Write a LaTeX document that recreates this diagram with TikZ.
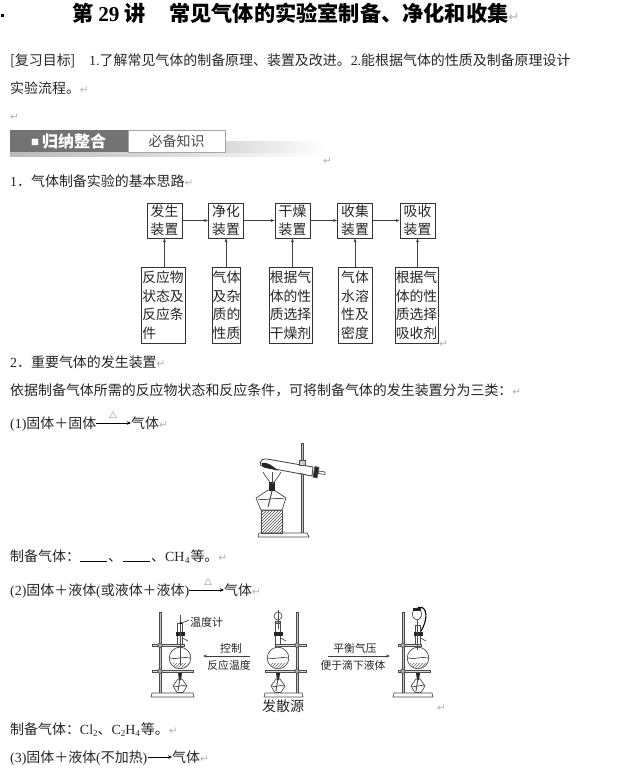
\documentclass[tikz,border=0pt]{standalone}
\usepackage{fontspec}
\setmainfont{Noto Sans CJK SC}
\newfontfamily\latinf{Liberation Serif}
\newfontfamily\retf{DejaVu Sans}
\usetikzlibrary{arrows.meta,patterns,shadings}
\newcommand{\ret}{{\retf\color{gray!60}\fontsize{10.5}{10.5}\selectfont ↵}}
\newcommand{\tret}{{\retf\color{gray!60}\mdseries\fontsize{13}{13}\selectfont ↵}}
\newcommand{\lt}[1]{{\latinf #1}}
\newcommand{\sbs}[1]{\raisebox{-2pt}{\latinf\fontsize{9}{9}\selectfont #1}}
\tikzset{
  x=1pt,y=-1pt,
  txt/.style={anchor=base west,inner sep=0pt,font=\fontsize{13.95}{14}\selectfont,text=black!85},
  ttl/.style={anchor=base west,inner sep=0pt,font=\fontsize{21.2}{22}\selectfont\bfseries},
  boxn/.style={draw=black!80,line width=0.8pt,inner sep=0pt,align=center,font=\fontsize{13.8}{18.5}\selectfont,text=black!85},
  flow/.style={draw=black!75,line width=0.7pt,-{Stealth[length=4pt,width=3pt]}},
  rxn/.style={draw=black,line width=0.7pt,-{Stealth[length=4pt,width=3.5pt]}},
  caplab/.style={inner sep=0pt,font=\fontsize{10.8}{11}\selectfont,text=black!85},
  rig/.style={draw=black!70,line width=0.7pt},
}
\newcommand{\standrig}[4]{% rod x, base left, base right, bottom y
  \draw[rig,fill=gray!45,line width=0.5pt] (#1-1.2,612) rectangle (#1+1.2,#4-3);
  \draw[rig,fill=white] (#2,#4-3) -- (#3,#4-3) -- (#3+1,#4+1) -- (#2-1,#4+1) -- cycle;
}
% centre x, rod x, neck top y, clamp left, clamp right, ring left, ring right
\newcommand{\flaskrig}[7]{%
  \draw[rig,fill=white] (#1-2.5,#3) -- (#1-2.5,650) -- (#1+2.5,650) -- (#1+2.5,#3) -- cycle;
  \fill[black!85] (#1-4.5,632) rectangle (#1+4.5,636);
  \draw[rig] (#1+2.5,638) -- (#1+8,641);
  \draw[rig,fill=gray!30] (#4,644) rectangle (#5,646.5);
  \draw[rig,fill=gray!60] (#2,645.2) circle (2.2);
  \draw[rig,fill=white] (#1,658) circle (10.8);
  \draw[rig] (#1-10,658) .. controls (#1-4,660) and (#1+4,656) .. (#1+10,658);
  \draw[pattern=north east lines,pattern color=black!60,draw=none] (#1-8,663) -- (#1+8,663) -- (#1+5,667.5) -- (#1-5,667.5) -- cycle;
  \draw[rig,fill=gray!30] (#6,670) rectangle (#7,672.5);
  \draw[rig,fill=gray!60] (#2,671.2) circle (2.2);
  \draw[rig,fill=white] (#1-2,679) -- (#1+2,679) -- (#1+7,686) -- (#1+3,692.5) -- (#1-3,692.5) -- (#1-7,686) -- cycle;
  \fill[black!85] (#1-2,673) -- (#1+2,673) -- (#1+1,680) -- (#1-1,680) -- cycle;
  \draw[rig,line width=0.9pt] (#1,678) -- (#1-2,691);
  \draw[rig] (#1-6,686) .. controls (#1-3,688) and (#1+3,684) .. (#1+6,686);
}
\begin{document}
\begin{tikzpicture}
\useasboundingbox (0,0) rectangle (634,771);
\fill[white] (0,0) rectangle (634,771);
% title
\fill[black] (1,13.5) rectangle (4,16.5);
\node[ttl] (t1) at (72,21) {第 \lt{\bfseries 29} 讲};
\node[ttl] (t2) at (169,21) {常见气体的实验室制备、净化和收集\tret};
% aims
\node[txt] (a1) at (10,65) {[复习目标]};
\node[txt] (a2) at (89,65) {\lt{1.}了解常见气体的制备原理、装置及改进。\lt{2.}能根据气体的性质及制备原理设计};
\node[txt] (a3) at (10,93) {实验流程。\ret};
\node[txt] (a4) at (10,120) {\ret};
% band
\shade[left color=gray!55,right color=white,draw=none] (10,152) rectangle (325,156);
\shade[left color=gray!30,right color=white,draw=none] (225,141) rectangle (325,152);
\fill[black!55] (10,130) rectangle (128,152);
\node[anchor=base west,inner sep=0pt,text=white,font=\fontsize{16}{16}\selectfont\bfseries] (b1) at (31,147) {\raisebox{2pt}{\fontsize{8}{8}\selectfont ■}\hspace{3pt}归纳整合};
\node[draw=gray!70,fill=white,line width=0.6pt,minimum width=97pt,minimum height=22pt,inner sep=0pt,text=black!70,font=\fontsize{14}{14}\selectfont] (b2) at (176.5,141) {必备知识};
\node[txt] (b3) at (323,164) {\ret};
% section 1
\node[txt] (s1) at (10,186) {\lt{1}．气体制备实验的基本思路\ret};
% flow chart
\node[boxn,minimum width=35pt,minimum height=35pt] (f1) at (164.5,220.5) {发生\\装置};
\node[boxn,minimum width=35pt,minimum height=35pt] (f2) at (226,220.5) {净化\\装置};
\node[boxn,minimum width=35pt,minimum height=35pt] (f3) at (292.5,220.5) {干燥\\装置};
\node[boxn,minimum width=35pt,minimum height=35pt] (f4) at (355,220.5) {收集\\装置};
\node[boxn,minimum width=35pt,minimum height=35pt] (f5) at (417.5,220.5) {吸收\\装置};
\node[boxn,minimum width=44pt,minimum height=76pt] (g1) at (163,305) {反应物\\状态及\\反应条\\件\hspace*{27.6pt}};
\node[boxn,minimum width=28pt,minimum height=76pt] (g2) at (226.5,305) {气体\\及杂\\质的\\性质};
\node[boxn,minimum width=43pt,minimum height=76pt] (g3) at (290.5,305) {根据气\\体的性\\质选择\\干燥剂};
\node[boxn,minimum width=34pt,minimum height=76pt] (g4) at (355,305) {气体\\水溶\\性及\\密度};
\node[boxn,minimum width=43pt,minimum height=76pt] (g5) at (416.5,305) {根据气\\体的性\\质选择\\吸收剂};
\node[txt] (r0) at (439,347) {\ret};
\draw[flow] (f1) -- (f2);
\draw[flow] (f2) -- (f3);
\draw[flow] (f3) -- (f4);
\draw[flow] (f4) -- (f5);
\draw[flow] (g1.north -| f1) -- (f1);
\draw[flow] (g2.north -| f2) -- (f2);
\draw[flow] (g3.north -| f3) -- (f3);
\draw[flow] (g4.north -| f4) -- (f4);
\draw[flow] (g5.north -| f5) -- (f5);
% section 2
\node[txt] (s2) at (10,367) {\lt{2}．重要气体的发生装置\ret};
\node[txt] (s3) at (10,395) {依据制备气体所需的反应物状态和反应条件，可将制备气体的发生装置分为三类：\ret};
% (1)
\node[txt] (p1) at (10,428) {\lt{(1)}固体＋固体};
\node[txt] (q1) at (131,428) {气体\ret};
\node[inner sep=0pt,font=\fontsize{8}{8}\selectfont,text=black!70,anchor=south] (d1) at (113,419) {△};
\draw[rxn] (p1.east |- 0,423) -- (q1.west |- 0,423);
% apparatus 1
\draw[rig,fill=gray!50,line width=0.4pt] (301,443) rectangle (303.5,533);
\draw[rig,fill=white] (259,533) -- (307,533) -- (309,537) -- (258,537) -- cycle;
\draw[rig,pattern=north east lines,pattern color=black!70] (261,510) rectangle (282,533);
\draw[rig,fill=white] (268,490) -- (274,490) -- (286,498) -- (282,510) -- (261,510) -- (256,498) -- cycle;
\draw[rig,line width=1pt] (272,491) -- (268,507);
\draw[rig] (258,499) .. controls (264,501) and (276,497) .. (284,499);
\fill[black!85] (269,482) rectangle (275,491);
\draw[rig] (263,472) .. controls (266,478) and (269,480) .. (271,484);
\draw[rig] (281,472) .. controls (278,478) and (275,480) .. (273,484);
\draw[rig] (272,472) -- (272,484);
\draw[rig,line width=0.9pt,fill=white] (313,467) -- (267,459) .. controls (259,458) and (258,466) .. (264,467) -- (312,476) -- cycle;
\fill[black!85] (261.5,463) .. controls (266,461.5) and (272,465) .. (278,470.5) -- (266,468) .. controls (263,467.5) and (261.5,466) .. (261.5,463) -- cycle;
\draw[rig,fill=gray!40] (299,460) rectangle (305,465);
\draw[rig,fill=black!85] (315,466.5) -- (319,467.5) -- (317,478) -- (313,477) -- cycle;
\draw[rig,fill=white] (319,471) -- (325,472) -- (325,474.5) -- (318.5,473.5) -- cycle;
\draw[rig] (298,473.5) -- (306,474.5);
% prepare line
\node[txt] (p2) at (10,561) {制备气体：};
\draw[black,line width=0.8pt] (80,561) -- (107,561);
\node[txt] (p3) at (108,561) {、};
\draw[black,line width=0.8pt] (123,561) -- (150,561);
\node[txt] (p4) at (151,561) {、\lt{CH}\hspace{0.5pt}\sbs{4}\hspace{1pt}等。\ret};
% (2)
\node[txt] (p5) at (10,595) {\lt{(2)}固体＋液体\lt{(}或液体＋液体\lt{)}};
\node[txt] (q2) at (224,595) {气体\ret};
\node[inner sep=0pt,font=\fontsize{8}{8}\selectfont,text=black!70,anchor=south] (d2) at (208,586) {△};
\draw[rxn] (p5.east |- 0,590) -- (q2.west |- 0,590);
% apparatus 2: left
\standrig{160}{152}{193}{696}
\flaskrig{180}{160}{623}{152}{184}{152}{193}
\draw[rig] (180,615) -- (180,665);
\fill[black] (181,623) circle (1.2);
\draw[rig] (182,623) -- (189,620);
\node[inner sep=0pt,font=\fontsize{11}{11}\selectfont,anchor=west,text=black!85] (th) at (190,622) {温度计};
% middle
\standrig{297}{265}{302}{696}
\flaskrig{278}{297}{623}{275}{306}{265}{306}
\draw[rig,fill=white] (278,616) circle (4);
\draw[rig,fill=gray!60] (275.5,621) rectangle (280.5,623);
\draw[rig] (278,610) -- (278,629);
\node[inner sep=0pt,font=\fontsize{14}{14}\selectfont,text=black!85] (src) at (283,706) {发散源};
% right
\standrig{403}{394}{432}{696}
\flaskrig{418}{403}{625}{398}{421}{398}{430}
\draw[rig,fill=white] (417,614) ellipse (4.5 and 6);
\fill[black!85] (413,608) rectangle (421,611);
\draw[rig] (417,620) -- (417,650);
\draw[black,line width=1.1pt] (418,607.5) .. controls (428,605) and (428,620) .. (421,631);
% arrows between apparatus
\coordinate (ca) at (250,656);
\coordinate (cb) at (203,656);
\draw[flow] (ca) -- (cb);
\node[caplab] (c1) at (231,648) {控制};
\node[caplab] (c2) at (229,665) {反应温度};
\coordinate (da) at (328,656);
\coordinate (db) at (390,656);
\draw[flow] (da) -- (db);
\node[caplab] (c3) at (355,648) {平衡气压};
\node[caplab] (c4) at (353,665) {便于滴下液体};
\node[txt] (r1) at (437,711) {\ret};
% last lines
\node[txt] (p6) at (10,734) {制备气体：\lt{Cl}\sbs{2}、\lt{C}\sbs{2}\lt{H}\sbs{4}\hspace{1pt}等。\ret};
\node[txt] (p7) at (10,762) {\lt{(3)}固体＋液体\lt{(}不加热\lt{)}};
\node[txt] (q3) at (172,762) {气体\ret};
\draw[rxn] (p7.east |- 0,757) -- (q3.west |- 0,757);
\end{tikzpicture}
\end{document}
